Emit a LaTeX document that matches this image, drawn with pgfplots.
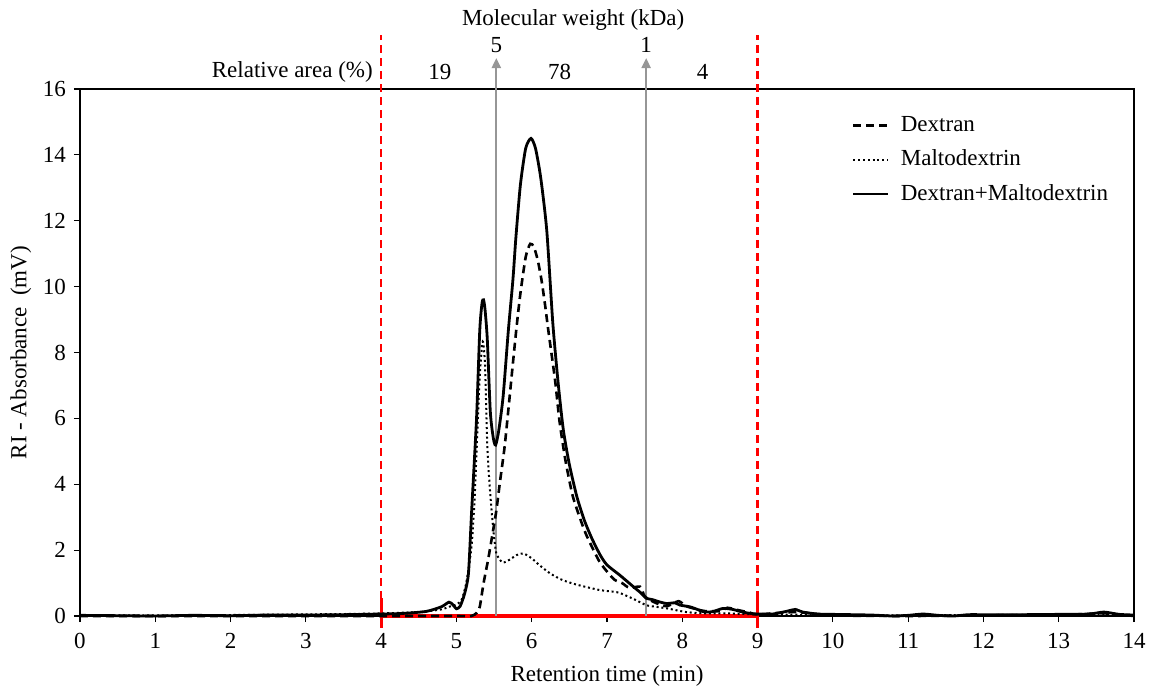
\documentclass[border=0pt]{standalone}
\usepackage{fontspec}
\setmainfont{Liberation Serif}
\usepackage{pgfplots}
\pgfplotsset{compat=1.18}
\usetikzlibrary{arrows.meta}
\definecolor{arrgray}{RGB}{150,150,150}

\pgfplotstableread{
x y
0 0.02
0.5 0.01
1 0.00
1.5 0.02
2 0.01
2.5 0.03
3 0.03
3.5 0.04
4 0.06
4.3 0.08
4.6 0.14
4.8 0.28
4.9 0.42
4.95 0.35
5.0 0.22
5.05 0.30
5.11 0.69
5.16 1.3
5.2 3.1
5.24 4.8
5.27 6.15
5.31 8.68
5.34 9.5
5.36 9.6
5.38 9.3
5.41 8.4
5.45 6.2
5.49 5.4
5.52 5.19
5.56 5.6
5.62 6.66
5.69 8.68
5.75 10.2
5.79 11.5
5.85 13.1
5.92 14.2
5.99 14.5
6.05 14.2
6.12 13.3
6.2 11.7
6.28 8.9
6.35 7.1
6.42 5.65
6.5 4.6
6.6 3.62
6.7 2.9
6.8 2.35
6.91 1.85
7.0 1.55
7.17 1.24
7.35 0.89
7.45 0.70
7.52 0.54
7.6 0.50
7.68 0.44
7.79 0.38
7.9 0.40
7.97 0.33
8.1 0.28
8.2 0.20
8.28 0.13
8.4 0.13
8.54 0.23
8.67 0.20
8.8 0.12
8.9 0.08
9.0 0.06
9.2 0.06
9.4 0.15
9.5 0.20
9.6 0.12
9.8 0.06
10 0.05
10.5 0.03
10.8 0.00
11.0 0.02
11.2 0.06
11.4 0.02
11.6 0.00
11.8 0.04
12 0.04
12.5 0.04
13 0.05
13.4 0.06
13.6 0.12
13.8 0.05
14 0.03
}\mixdata

\pgfplotstableread{
x y
0 0.00
1 0.00
2 0.00
3 0.00
4 0.00
4.5 0.00
5.0 0.00
5.2 0.00
5.27 0.10
5.31 0.28
5.36 0.99
5.42 1.7
5.48 2.5
5.53 3.2
5.58 4.1
5.64 5.14
5.7 6.5
5.75 7.67
5.8 8.8
5.85 9.8
5.92 10.9
5.98 11.3
6.03 11.2
6.08 10.8
6.13 10.2
6.18 9.4
6.22 8.68
6.31 7.16
6.37 5.9
6.45 4.7
6.55 3.6
6.7 2.6
6.8 2.1
6.9 1.65
7.0 1.35
7.1 1.1
7.2 1.0
7.3 0.85
7.44 0.89
7.5 0.60
7.6 0.45
7.7 0.35
7.8 0.30
7.95 0.45
8.05 0.30
8.2 0.20
8.3 0.15
8.5 0.15
8.6 0.25
8.7 0.20
8.9 0.10
9 0.05
9.5 0.12
10 0.02
11 0.00
12 0.02
13 0.03
13.6 0.08
14 0.00
}\dexdata

\pgfplotstableread{
x y
0 0.02
1 0.02
2 0.03
3 0.05
3.5 0.06
4 0.08
4.5 0.12
4.8 0.20
4.9 0.28
5.0 0.35
5.07 0.5
5.13 1.0
5.2 2.1
5.24 3.5
5.27 5.14
5.31 7.3
5.35 8.33
5.38 7.6
5.41 5.14
5.44 4.0
5.47 3.12
5.5 2.4
5.53 1.9
5.58 1.7
5.62 1.62
5.7 1.7
5.8 1.85
5.89 1.9
6.0 1.75
6.1 1.55
6.24 1.3
6.4 1.1
6.6 0.95
6.9 0.79
7.08 0.74
7.17 0.70
7.35 0.52
7.52 0.33
7.65 0.28
7.8 0.23
8.05 0.12
8.3 0.08
8.6 0.08
9 0.05
10 0.03
11 0.02
12 0.03
13 0.03
14 0.02
}\maldata

\begin{document}
\fontsize{11.5}{13.8}\selectfont
\begin{tikzpicture}
\begin{axis}[
  scale only axis,
  width=527pt, height=263.5pt,
  xmin=0, xmax=14, ymin=0, ymax=16,
  xtick={0,1,...,14}, ytick={0,2,...,16},
  axis line style={line width=0.6pt},
  tick style={line width=0.6pt, black},
  major tick length=3pt,
  tick align=outside,
  xtick pos=bottom, ytick pos=left,
  clip=false,
  /pgf/number format/assume math mode=true,
  tick label style={font=\fontsize{11.5}{13.8}\selectfont},
  xticklabel style={yshift=-1.5pt},
  label style={font=\fontsize{11.5}{13.8}\selectfont},
  xlabel={Retention time (min)},
  ylabel={RI - Absorbance\ \ (mV)},
  xlabel style={at={(axis description cs:0.5,0)}, anchor=center, yshift=-30pt},
  ylabel style={yshift=-2pt},
  legend style={draw=none, fill=none, at={(axis cs:10.25,15.3)}, anchor=north west,
    font=\fontsize{11.5}{13.8}\selectfont, row sep=3.5pt, inner sep=0pt},
  legend cell align=left,
  legend image code/.code={\draw[#1] (0pt,0pt) -- (17.5pt,0pt); \path (21pt,0pt);},
]
% red markers
\draw[red, line width=1.1pt, dash pattern=on 4pt off 2.5pt] (axis cs:4,-0.27) -- (axis cs:4,17.64);
\draw[red, line width=1.1pt, dash pattern=on 4pt off 2.5pt] (axis cs:9,-0.27) -- (axis cs:9,17.64);
\draw[red, line width=1.6pt] (axis cs:4,0) -- (axis cs:9,0);
\draw[red, line width=1.6pt] (axis cs:4,-0.36) -- (axis cs:4,0.55);
\draw[red, line width=1.6pt] (axis cs:9,-0.36) -- (axis cs:9,0.55);
% gray arrows
\draw[arrgray, line width=1.1pt, -{Triangle[width=4.5pt,length=5pt]}] (axis cs:5.53,0) -- (axis cs:5.53,16.94);
\draw[arrgray, line width=1.1pt, -{Triangle[width=4.5pt,length=5pt]}] (axis cs:7.52,0) -- (axis cs:7.52,16.94);

\addplot[black, line width=1.3pt, dash pattern=on 4pt off 2.5pt, smooth, tension=0.4] table {\dexdata};
\addlegendentry{Dextran}
\addplot[black, line width=1pt, dash pattern=on 1pt off 1.4pt, smooth, tension=0.4] table {\maldata};
\addlegendentry{Maltodextrin}
\addplot[black, line width=1.4pt, smooth, tension=0.4] table {\mixdata};
\addlegendentry{Dextran+Maltodextrin}

% texts
\node at (axis cs:6.55,18.09) {Molecular weight (kDa)};
\node at (axis cs:5.53,17.33) {5};
\node at (axis cs:7.52,17.33) {1};
\node at (axis cs:2.82,16.51) {Relative area (\%)};
\node at (axis cs:4.78,16.51) {19};
\node at (axis cs:6.37,16.51) {78};
\node at (axis cs:8.27,16.51) {4};
\coordinate (bbsw) at (axis description cs:0,0);
\coordinate (bbne) at (axis description cs:1,1);
\end{axis}
\pgfresetboundingbox
\path[use as bounding box] ([shift={(-40pt,-35pt)}]bbsw) rectangle ([shift={(7.5pt,44.5pt)}]bbne);
\end{tikzpicture}
\end{document}
